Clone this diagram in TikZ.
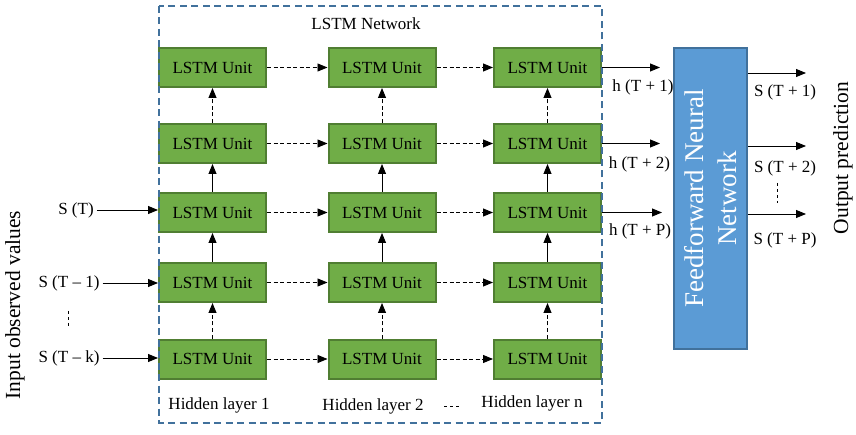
\documentclass[tikz,border=0pt]{standalone}
\usepackage{fontspec}
\setmainfont{Liberation Serif}
\usepackage{tikz}
\usetikzlibrary{arrows.meta}

\definecolor{unitgreen}{RGB}{112,173,71}
\definecolor{unitedge}{RGB}{80,126,50}
\definecolor{ffnblue}{RGB}{91,155,213}
\definecolor{netblue}{RGB}{65,113,156}

\tikzset{
	unitbox/.style = {rectangle, draw=unitedge, fill=unitgreen, line width=2pt,
		minimum width=107pt, minimum height=39pt, inner sep=0pt,
		font=\fontsize{17}{20}\selectfont},
	lbl/.style = {inner sep=3pt, font=\fontsize{17}{20}\selectfont},
	sidelbl/.style = {inner sep=0pt, rotate=90, font=\fontsize{21.5}{25}\selectfont},
	dashline/.style = {dash pattern=on 4pt off 2.5pt},
	dotsline/.style = {draw=black, line width=0.8pt, dash pattern=on 3pt off 3pt}
}

\begin{document}
\begin{tikzpicture}[x=1pt, y=-1pt]
	\useasboundingbox (0,0) rectangle (856,435);
	% LSTM units, row 1 is the top one
	\begin{scope}[every node/.style = unitbox]
		\node (u11) at (212.5,67.5) {LSTM Unit};
		\node (u12) at (382,67.5) {LSTM Unit};
		\node (u13) at (547.5,67.5) {LSTM Unit};
		\node (u21) at (212.5,143.5) {LSTM Unit};
		\node (u22) at (382,143.5) {LSTM Unit};
		\node (u23) at (547.5,143.5) {LSTM Unit};
		\node (u31) at (212.5,212.5) {LSTM Unit};
		\node (u32) at (382,212.5) {LSTM Unit};
		\node (u33) at (547.5,212.5) {LSTM Unit};
		\node (u41) at (212.5,282.5) {LSTM Unit};
		\node (u42) at (382,282.5) {LSTM Unit};
		\node (u43) at (547.5,282.5) {LSTM Unit};
		\node (u51) at (212.5,359) {LSTM Unit};
		\node (u52) at (382,359) {LSTM Unit};
		\node (u53) at (547.5,359) {LSTM Unit};
	\end{scope}
	\draw [netblue, line width=2pt, dash pattern=on 7pt off 4.5pt]
		(159,6) rectangle (601.5,422.5);
	\node [lbl] (net) at (366,24) {LSTM Network};
	\node [lbl] (hl1) at (219,405) {Hidden layer 1};
	\node [lbl] (hl2) at (373,406) {Hidden layer 2};
	\node [lbl] (hln) at (532,403) {Hidden layer n};
	\draw [dotsline] (444,406) -- (462,406);

	% inputs
	\node [lbl] (sT) at (76,210) {S (T)};
	\node [lbl] (sT1) at (69,283) {S (T – 1)};
	\node [lbl] (sTk) at (69,358) {S (T – k)};
	\draw [dotsline] (68,311) -- (68,328);
	\node [sidelbl] (inobs) at (15,305) {Input observed values};

	% feedforward part
	\node (ffn) [rectangle, draw=netblue, fill=ffnblue, line width=2pt,
		minimum width=73pt, minimum height=301pt] at (710.5,198.5) {};
	\node (ffntext) [rotate=90, text=white, align=center, inner sep=0pt,
		font=\fontsize{27}{33}\selectfont] at (ffn.center) {Feedforward Neural\\Network};
	\coordinate (hc1) at (660,67.5);
	\coordinate (hc2) at (660,143.5);
	\coordinate (hcP) at (662,212.5);
	\coordinate (oc1) at (806,73);
	\coordinate (oc2) at (806,146);
	\coordinate (ocP) at (806,214);
	\node [lbl] (h1) at (643,87) {h (T + 1)};
	\node [lbl] (h2) at (639.5,164) {h (T + 2)};
	\node [lbl] (hP) at (640,231) {h (T + P)};
	\node [lbl] (o1) at (785,92) {S (T + 1)};
	\node [lbl] (o2) at (785,168) {S (T + 2)};
	\node [lbl] (oP) at (785,240) {S (T + P)};
	\draw [dotsline] (777,183) -- (777,203);
	\node [sidelbl] (outpred) at (843,158) {Output prediction};

	\begin{scope}[>={Triangle[length=10pt,width=8pt]},
			every edge/.style={draw=black, line width=0.9pt}]
		\path [->] (u12) edge [dashline] (u13);
		\path [->] (u11) edge [dashline] (u12);
		\path [->] (u21) edge [dashline] (u22);
		\path [->] (u22) edge [dashline] (u23);
		\path [->] (u31) edge [dashline] (u32);
		\path [->] (u32) edge [dashline] (u33);
		\path [->] (u41) edge [dashline] (u42);
		\path [->] (u42) edge [dashline] (u43);
		\path [->] (u51) edge [dashline] (u52);
		\path [->] (u52) edge [dashline] (u53);
		\path [->] (u51) edge [dashline] (u41);
		\path [->] (u52) edge [dashline] (u42);
		\path [->] (u53) edge [dashline] (u43);
		\path [->] (u41) edge (u31);
		\path [->] (u42) edge (u32);
		\path [->] (u43) edge (u33);
		\path [->] (u31) edge (u21);
		\path [->] (u32) edge (u22);
		\path [->] (u33) edge (u23);
		\path [->] (u21) edge [dashline] (u11);
		\path [->] (u22) edge [dashline] (u12);
		\path [->] (u23) edge [dashline] (u13);
		\path [->] (sT.east) edge (sT.east -| u31.west);
		\path [->] (sT1.east) edge (sT1.east -| u41.west);
		\path [->] (sTk.east) edge (sTk.east -| u51.west);
		\path [->] (u13) edge (hc1);
		\path [->] (u23) edge (hc2);
		\path [->] (u33) edge (hcP);
		\path [->] (oc1 -| ffn.east) edge (oc1);
		\path [->] (oc2 -| ffn.east) edge (oc2);
		\path [->] (ocP -| ffn.east) edge (ocP);
	\end{scope}
\end{tikzpicture}
\end{document}
